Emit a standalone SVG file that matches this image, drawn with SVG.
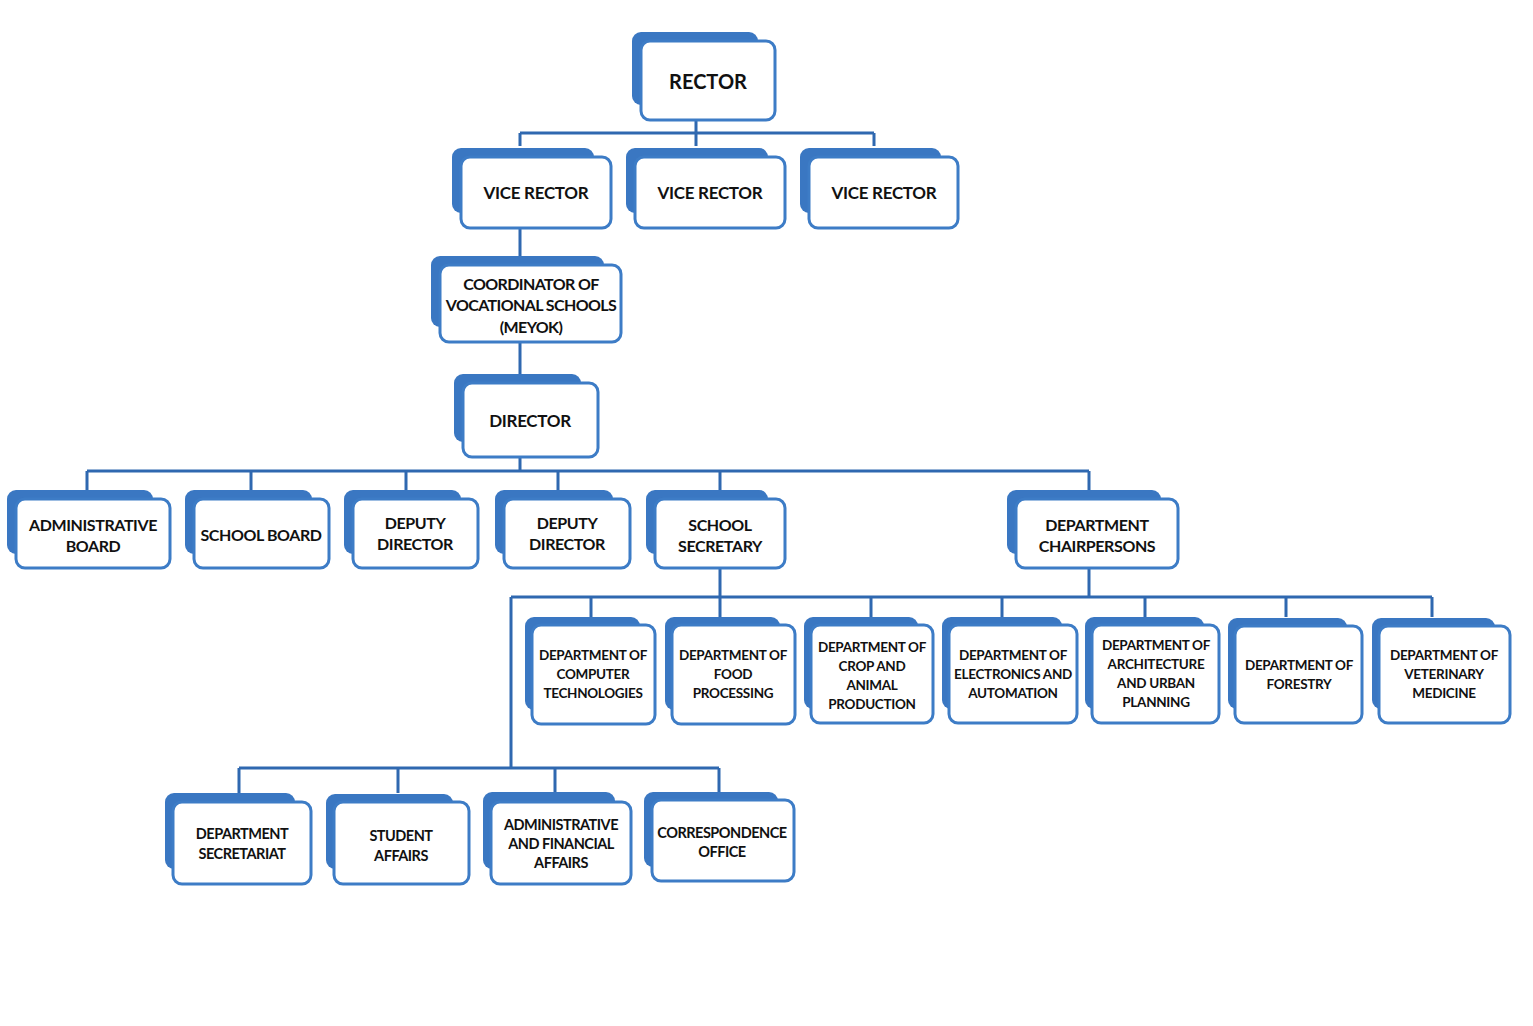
<svg xmlns="http://www.w3.org/2000/svg" width="1533" height="1026" viewBox="0 0 1533 1026">
<style>
.bk{fill:#3a77c2;}
.fr{fill:#ffffff;stroke:#3d7cc6;stroke-width:3;}
.t{font-family:Lato,"Open Sans",sans-serif;font-weight:700;fill:#111;text-anchor:middle;dominant-baseline:central;}
.t21{font-size:20px;}
.t18{font-size:17px;letter-spacing:-0.3px;}
.tc{font-size:16px;letter-spacing:-0.6px;}
.td{font-size:17px;letter-spacing:-0.3px;}
.t16{font-size:16px;letter-spacing:-0.4px;}
.t15{font-size:14.5px;letter-spacing:-0.5px;}
.t14{font-size:13.5px;letter-spacing:-0.3px;}
.cn{fill:none;stroke:#2f68b0;stroke-width:3;}
</style>
<rect width="1533" height="1026" fill="#ffffff"/>
<g id="connectors" class="cn">
<path d="M696 120V146M520 133H874M520 133V146M874 133V146"/>
<path d="M520 228V257M520 342V375"/>
<path d="M520 457V471M87 471H1089M87 471V490M251 471V490M406 471V490M558 471V490M720 471V490M1089 471V490"/>
<path d="M720 569V597M1089 569V597M511 597H1432M591 597V617M720 597V617M871 597V617M1002 597V617M1145 597V617M1286 597V617M1432 597V617"/>
<path d="M511 597V768M239 768H719M239 768V793M398 768V793M555 768V793M719 768V792"/>
</g>
<g id="rector"><rect class="bk" x="632" y="32" width="126" height="73" rx="9"/><rect class="fr" x="641" y="41" width="134" height="79" rx="9"/><text class="t t21" x="708" y="81">RECTOR</text></g>
<g id="vice-rector-1"><rect class="bk" x="452" y="148" width="142" height="65" rx="9"/><rect class="fr" x="461" y="157" width="150" height="71" rx="9"/><text class="t t18" x="536" y="192">VICE RECTOR</text></g>
<g id="vice-rector-2"><rect class="bk" x="626" y="148" width="142" height="65" rx="9"/><rect class="fr" x="635" y="157" width="150" height="71" rx="9"/><text class="t t18" x="710" y="192">VICE RECTOR</text></g>
<g id="vice-rector-3"><rect class="bk" x="800" y="148" width="141" height="65" rx="9"/><rect class="fr" x="809" y="157" width="149" height="71" rx="9"/><text class="t t18" x="884" y="192">VICE RECTOR</text></g>
<g id="coordinator"><rect class="bk" x="431" y="256" width="173" height="71" rx="9"/><rect class="fr" x="440" y="265" width="181" height="77" rx="9"/><text class="t tc" x="531" y="283">COORDINATOR OF</text><text class="t tc" x="531" y="304">VOCATIONAL SCHOOLS</text><text class="t tc" x="531" y="326">(MEYOK)</text></g>
<g id="director"><rect class="bk" x="454" y="374" width="127" height="68" rx="9"/><rect class="fr" x="463" y="383" width="135" height="74" rx="9"/><text class="t td" x="530" y="420">DIRECTOR</text></g>
<g id="administrative-board"><rect class="bk" x="7" y="490" width="146" height="64" rx="9"/><rect class="fr" x="16" y="499" width="154" height="69" rx="9"/><text class="t t16" x="93" y="524">ADMINISTRATIVE</text><text class="t t16" x="93" y="545">BOARD</text></g>
<g id="school-board"><rect class="bk" x="185" y="490" width="127" height="64" rx="9"/><rect class="fr" x="194" y="499" width="135" height="69" rx="9"/><text class="t t16" x="261" y="534">SCHOOL BOARD</text></g>
<g id="deputy-director-1"><rect class="bk" x="344" y="490" width="117" height="64" rx="9"/><rect class="fr" x="353" y="499" width="125" height="69" rx="9"/><text class="t t16" x="415" y="522">DEPUTY</text><text class="t t16" x="415" y="543">DIRECTOR</text></g>
<g id="deputy-director-2"><rect class="bk" x="495" y="490" width="118" height="64" rx="9"/><rect class="fr" x="504" y="499" width="126" height="69" rx="9"/><text class="t t16" x="567" y="522">DEPUTY</text><text class="t t16" x="567" y="543">DIRECTOR</text></g>
<g id="school-secretary"><rect class="bk" x="646" y="490" width="122" height="64" rx="9"/><rect class="fr" x="655" y="499" width="130" height="69" rx="9"/><text class="t t16" x="720" y="524">SCHOOL</text><text class="t t16" x="720" y="545">SECRETARY</text></g>
<g id="department-chairpersons"><rect class="bk" x="1007" y="490" width="154" height="64" rx="9"/><rect class="fr" x="1016" y="499" width="162" height="69" rx="9"/><text class="t t16" x="1097" y="524">DEPARTMENT</text><text class="t t16" x="1097" y="545">CHAIRPERSONS</text></g>
<g id="dept-computer"><rect class="bk" x="525" y="617" width="115" height="93" rx="9"/><rect class="fr" x="532" y="625" width="123" height="99" rx="9"/><text class="t t14" x="593" y="655">DEPARTMENT OF</text><text class="t t14" x="593" y="674">COMPUTER</text><text class="t t14" x="593" y="693">TECHNOLOGIES</text></g>
<g id="dept-food"><rect class="bk" x="665" y="617" width="115" height="93" rx="9"/><rect class="fr" x="672" y="625" width="123" height="99" rx="9"/><text class="t t14" x="733" y="655">DEPARTMENT OF</text><text class="t t14" x="733" y="674">FOOD</text><text class="t t14" x="733" y="693">PROCESSING</text></g>
<g id="dept-crop"><rect class="bk" x="804" y="617" width="114" height="92" rx="9"/><rect class="fr" x="811" y="625" width="122" height="98" rx="9"/><text class="t t14" x="872" y="647">DEPARTMENT OF</text><text class="t t14" x="872" y="666">CROP AND</text><text class="t t14" x="872" y="685">ANIMAL</text><text class="t t14" x="872" y="704">PRODUCTION</text></g>
<g id="dept-electronics"><rect class="bk" x="942" y="617" width="120" height="92" rx="9"/><rect class="fr" x="949" y="625" width="128" height="98" rx="9"/><text class="t t14" x="1013" y="655">DEPARTMENT OF</text><text class="t t14" x="1013" y="674">ELECTRONICS AND</text><text class="t t14" x="1013" y="693">AUTOMATION</text></g>
<g id="dept-architecture"><rect class="bk" x="1085" y="617" width="119" height="92" rx="9"/><rect class="fr" x="1092" y="625" width="127" height="98" rx="9"/><text class="t t14" x="1156" y="645">DEPARTMENT OF</text><text class="t t14" x="1156" y="664">ARCHITECTURE</text><text class="t t14" x="1156" y="683">AND URBAN</text><text class="t t14" x="1156" y="702">PLANNING</text></g>
<g id="dept-forestry"><rect class="bk" x="1228" y="618" width="119" height="91" rx="9"/><rect class="fr" x="1235" y="626" width="127" height="97" rx="9"/><text class="t t14" x="1299" y="665">DEPARTMENT OF</text><text class="t t14" x="1299" y="684">FORESTRY</text></g>
<g id="dept-veterinary"><rect class="bk" x="1372" y="618" width="123" height="91" rx="9"/><rect class="fr" x="1379" y="626" width="131" height="97" rx="9"/><text class="t t14" x="1444" y="655">DEPARTMENT OF</text><text class="t t14" x="1444" y="674">VETERINARY</text><text class="t t14" x="1444" y="693">MEDICINE</text></g>
<g id="department-secretariat"><rect class="bk" x="165" y="793" width="130" height="76" rx="9"/><rect class="fr" x="173" y="802" width="138" height="82" rx="9"/><text class="t t15" x="242" y="833">DEPARTMENT</text><text class="t t15" x="242" y="853">SECRETARIAT</text></g>
<g id="student-affairs"><rect class="bk" x="326" y="794" width="127" height="75" rx="9"/><rect class="fr" x="334" y="802" width="135" height="82" rx="9"/><text class="t t15" x="401" y="835">STUDENT</text><text class="t t15" x="401" y="855">AFFAIRS</text></g>
<g id="administrative-financial-affairs"><rect class="bk" x="483" y="792" width="132" height="77" rx="9"/><rect class="fr" x="491" y="802" width="140" height="82" rx="9"/><text class="t t15" x="561" y="824">ADMINISTRATIVE</text><text class="t t15" x="561" y="843">AND FINANCIAL</text><text class="t t15" x="561" y="862">AFFAIRS</text></g>
<g id="correspondence-office"><rect class="bk" x="644" y="792" width="134" height="75" rx="9"/><rect class="fr" x="652" y="800" width="142" height="81" rx="9"/><text class="t t15" x="722" y="832">CORRESPONDENCE</text><text class="t t15" x="722" y="851">OFFICE</text></g>
</svg>
